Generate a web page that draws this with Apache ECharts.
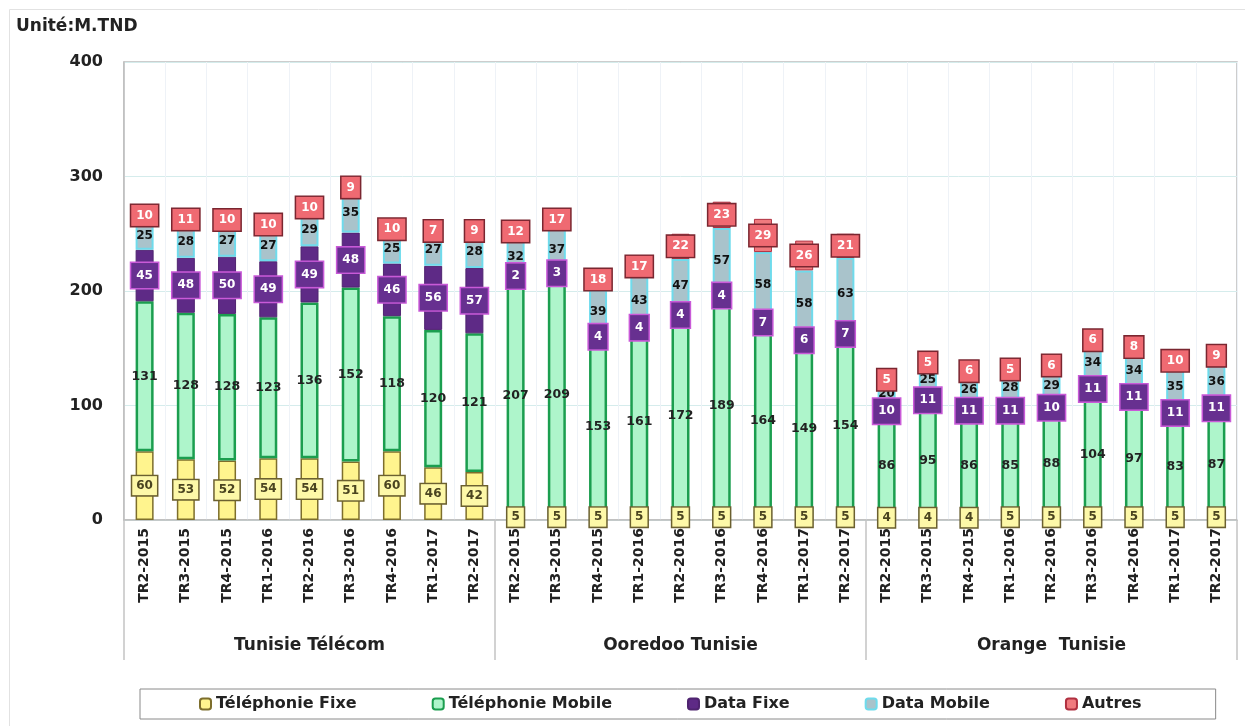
<!DOCTYPE html>
<html>
<head>
<meta charset="utf-8">
<script src="https://cdn.jsdelivr.net/npm/echarts@6/dist/echarts.min.js"></script>
<style>html,body{margin:0;padding:0;background:#fff}#c{width:1245px;height:726px}</style>
</head>
<body>
<div id="c"></div>
<script>
const operators = ['Tunisie Télécom', 'Ooredoo Tunisie', 'Orange  Tunisie'];
const quarters = ['TR2-2015','TR3-2015','TR4-2015','TR1-2016','TR2-2016','TR3-2016','TR4-2016','TR1-2017','TR2-2017'];

// Tunisie Télécom
const ttFixe   = [60,53,52,54,54,51,60,46,42];
const ttMobile = [131,128,128,123,136,152,118,120,121];
const ttDataF  = [45,48,50,49,49,48,46,56,57];
const ttDataM  = [25,28,27,27,29,35,25,27,28];
const ttAutres = [10,11,10,10,10,9,10,7,9];
// Ooredoo Tunisie
const ooFixe   = [5,5,5,5,5,5,5,5,5];
const ooMobile = [207,209,153,161,172,189,164,149,154];
const ooDataF  = [2,3,4,4,4,4,7,6,7];
const ooDataM  = [32,37,39,43,47,57,58,58,63];
const ooAutres = [12,17,18,17,22,23,29,26,21];
// Orange Tunisie
const orFixe   = [4,4,4,5,5,5,5,5,5];
const orMobile = [86,95,86,85,88,104,97,83,87];
const orDataF  = [10,11,11,11,10,11,11,11,11];
const orDataM  = [20,25,26,28,29,34,34,35,36];
const orAutres = [5,5,6,5,6,6,8,10,9];

const yTicks = [0,100,200,300,400];

const categories = [];
operators.forEach((op, i) => quarters.forEach(q => categories.push(i + '|' + q)));

const fixe   = ttFixe.concat(ooFixe, orFixe);
const mobile = ttMobile.concat(ooMobile, orMobile);
const dataF  = ttDataF.concat(ooDataF, orDataF);
const dataM  = ttDataM.concat(ooDataM, orDataM);
const autres = ttAutres.concat(ooAutres, orAutres);

const FONT = '"DejaVu Sans", Verdana, sans-serif';
const BW = 18;

function boxLabel(bg, border, color, pad) {
  return {
    show: true, position: 'inside', fontFamily: FONT, fontWeight: 'bold', fontSize: 12,
    color: color, backgroundColor: bg, borderColor: border, borderWidth: 1.5,
    padding: pad
  };
}

const chart = echarts.init(document.getElementById('c'));
chart.setOption({
  animation: false,
  backgroundColor: '#fff',
  title: {
    text: 'Unité:M.TND', left: 11, top: 13,
    textStyle: { fontFamily: FONT, fontWeight: 'bold', fontSize: 17, color: '#222' }
  },
  graphic: [{
    type: 'rect', left: 7, top: 7, shape: { width: 1240, height: 730 },
    style: { fill: 'none', stroke: '#e2e2e2', lineWidth: 1 }, silent: true, z: -10
  }],
  legend: {
    bottom: 7, left: 140,
    padding: [7, 74, 7, 59],
    borderColor: '#8a8a8a', borderWidth: 1,
    itemGap: 75, itemWidth: 11, itemHeight: 11,
    textStyle: { fontFamily: FONT, fontWeight: 'bold', fontSize: 16, color: '#222' },
    data: ['Téléphonie Fixe', 'Téléphonie Mobile', 'Data Fixe', 'Data Mobile', 'Autres']
  },
  grid: {
    left: 124, right: 8, top: 62, bottom: 206,
    show: true, borderColor: '#bdbdbd', borderWidth: 1.5, backgroundColor: 'transparent'
  },
  xAxis: [{
    type: 'category', data: categories, position: 'bottom',
    axisLine: { show: true, lineStyle: { color: '#bdbdbd', width: 1.5 } },
    axisTick: { show: false },
    splitLine: { show: true, interval: 0, lineStyle: { color: '#eef2f7', width: 1 } },
    axisLabel: {
      interval: 0, rotate: 90, margin: 8,
      formatter: v => v.split('|')[1],
      fontFamily: FONT, fontWeight: 'bold', fontSize: 14, color: '#222'
    }
  }, {
    type: 'category', data: operators, position: 'bottom',
    axisLine: { show: false },
    axisTick: { show: true, length: 140, lineStyle: { color: '#c4c4c4', width: 1.5 } },
    axisLabel: { margin: 117, fontFamily: FONT, fontWeight: 'bold', fontSize: 17, color: '#222' }
  }],
  yAxis: {
    type: 'value', min: yTicks[0], max: yTicks[yTicks.length - 1], interval: 100,
    axisLine: { show: true, lineStyle: { color: '#bdbdbd', width: 1.5 } },
    axisTick: { show: false },
    splitLine: { show: true, lineStyle: { color: '#d5ecec', width: 1 } },
    axisLabel: { margin: 21, fontFamily: FONT, fontWeight: 'bold', fontSize: 16, color: '#222' }
  },
  series: [{
    name: 'Téléphonie Fixe', type: 'bar', stack: 's', barWidth: BW, data: fixe,
    itemStyle: { color: '#fff48e', borderColor: '#7d6e2c', borderWidth: 1.5 },
    label: boxLabel('#fdf8a8', '#6b6030', '#4a4420', [4, 4, 3, 4])
  }, {
    name: 'Téléphonie Mobile', type: 'bar', stack: 's', barWidth: BW, data: mobile,
    itemStyle: { color: '#aef5cb', borderColor: '#1b9e4f', borderWidth: 2.5 },
    label: { show: true, position: 'inside', fontFamily: FONT, fontWeight: 'bold', fontSize: 12.5, color: '#222' }
  }, {
    name: 'Data Fixe', type: 'bar', stack: 's', barWidth: BW, data: dataF,
    itemStyle: { color: '#5e2a86', borderColor: '#4f2470', borderWidth: 1 },
    label: boxLabel('#673090', '#c95ad8', '#ffffff', [7, 5, 6, 5])
  }, {
    name: 'Data Mobile', type: 'bar', stack: 's', barWidth: BW, data: dataM,
    itemStyle: { color: '#a9c3cb', borderColor: '#6fdbec', borderWidth: 2 },
    label: { show: true, position: 'inside', fontFamily: FONT, fontWeight: 'bold', fontSize: 12, color: '#111' }
  }, {
    name: 'Autres', type: 'bar', stack: 's', barWidth: BW, data: autres,
    itemStyle: { color: '#f07a7e', borderColor: '#b03040', borderWidth: 1 },
    label: boxLabel('#ef6a72', '#7a2630', '#ffffff', [5, 5, 4, 5])
  }]
});
</script>
</body>
</html>
